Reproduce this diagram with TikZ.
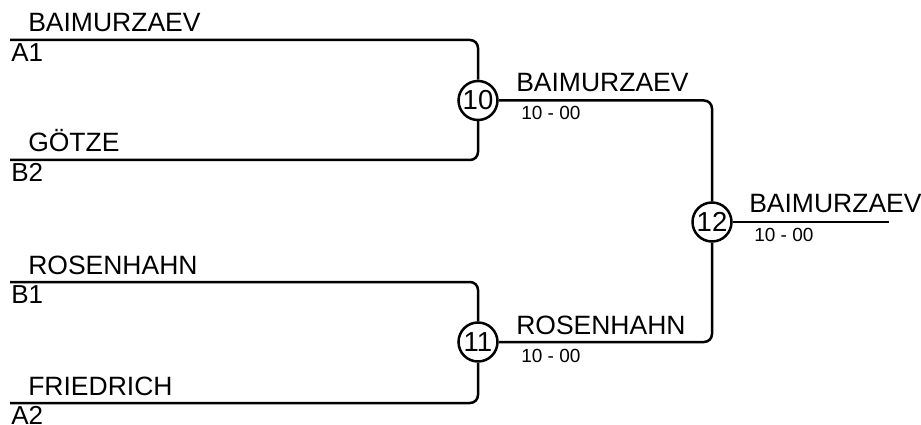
\documentclass[tikz,border=0pt]{standalone}
\usepackage{fontspec}
\setmainfont{Liberation Sans}
\begin{document}
\begin{tikzpicture}[x=1pt,y=-1pt,line width=2.5pt,
  bout/.style={circle,draw,inner sep=0pt,minimum size=39pt,font=\fontsize{27.5}{27.5}\selectfont},
  player/.style={anchor=base west,inner sep=0pt,font=\fontsize{26.5}{26.5}\selectfont},
  seed/.style={anchor=base west,inner sep=0pt,font=\fontsize{26}{26}\selectfont},
  score/.style={anchor=base west,inner sep=0pt,font=\fontsize{19}{19}\selectfont},
  wire/.style={rounded corners=8pt}]
 \useasboundingbox (0,0) rectangle (921,425);

 %start of each line
 \coordinate (A1) at (10,40);
 \coordinate (B2) at (10,160);
 \coordinate (B1) at (10,282);
 \coordinate (A2) at (10,403);
 \coordinate (W) at (889,222); %end of winner line

 %bouts
 \node[bout] (m10) at (478,100.5) {10};
 \node[bout] (m11) at (478,342) {11};
 \node[bout] (m12) at (712,222) {12};

 %draw bracket
 \draw[wire] (A1) -| (m10);
 \draw[wire] (B2) -| (m10);
 \draw[wire] (B1) -| (m11);
 \draw[wire] (A2) -| (m11);
 \draw[wire] (m10) -| (m12);
 \draw[wire] (m11) -| (m12);
 \draw (m12) -- (W);

 %first round
 \node[player] (nA1) at (27,32) {BAIMURZAEV};
 \node[seed] (sA1) at (10,61.5) {A1};
 \node[player] (nB2) at (27,152) {GÖTZE};
 \node[seed] (sB2) at (10,181.5) {B2};
 \node[player] (nB1) at (27,274) {ROSENHAHN};
 \node[seed] (sB1) at (10,303.5) {B1};
 \node[player] (nA2) at (27,395) {FRIEDRICH};
 \node[seed] (sA2) at (10,424.5) {A2};

 %winners and scores
 \node[player] (w10) at (515,92) {BAIMURZAEV};
 \node[score] (r10) at (520,120) {10 - 00};
 \node[player] (w11) at (515,334) {ROSENHAHN};
 \node[score] (r11) at (520,362) {10 - 00};
 \node[player] (w12) at (748,212) {BAIMURZAEV};
 \node[score] (r12) at (753,241) {10 - 00};
\end{tikzpicture}
\end{document}
